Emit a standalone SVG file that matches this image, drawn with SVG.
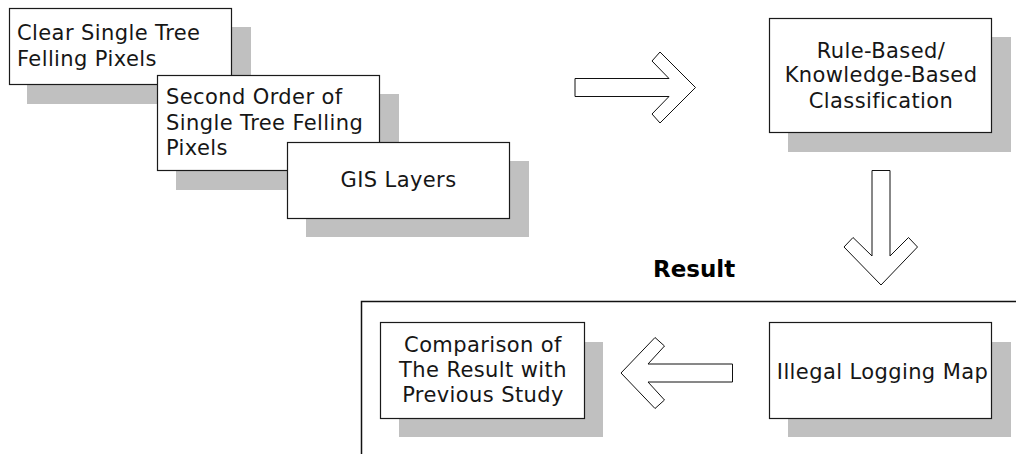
<svg xmlns="http://www.w3.org/2000/svg" width="1016" height="454" viewBox="0 0 1016 454">
  <style>
    .shadow { fill: #c0c0c0; stroke: none; }
    .box { fill: #ffffff; stroke: #1a1a1a; stroke-width: 1.2; }
    .label { font-family: "DejaVu Sans", Verdana, sans-serif; font-size: 21px; letter-spacing: 0.4px; fill: #161616; }
    .mid { text-anchor: middle; }
    .title { font-family: "DejaVu Sans", Verdana, sans-serif; font-size: 23px; font-weight: bold; fill: #000000; }
    .arrow { fill: #ffffff; stroke: #111111; stroke-width: 1; stroke-linejoin: miter; }
    .frame { fill: none; stroke: #111111; stroke-width: 1.5; }
  </style>

  <!-- Result section frame (open to the right and bottom) -->
  <g id="result-frame">
    <rect class="frame" x="361.5" y="301.5" width="700" height="200"/>
    <text class="title" x="653" y="277">Result</text>
  </g>

  <!-- Input layers, stacked -->
  <g id="clear-felling">
    <rect class="shadow" x="27" y="27" width="224" height="77"/>
    <rect class="box" x="9.5" y="8.5" width="222" height="76"/>
    <text class="label" x="17" y="40">Clear Single Tree</text>
    <text class="label" x="17" y="66">Felling Pixels</text>
  </g>

  <g id="second-order">
    <rect class="shadow" x="176" y="94" width="223" height="96"/>
    <rect class="box" x="157.5" y="75.5" width="222" height="95"/>
    <text class="label" x="166" y="104">Second Order of</text>
    <text class="label" x="166" y="129.5">Single Tree Felling</text>
    <text class="label" x="166" y="155">Pixels</text>
  </g>

  <g id="gis-layers">
    <rect class="shadow" x="306" y="161" width="223" height="76"/>
    <rect class="box" x="287.5" y="142.5" width="222" height="76"/>
    <text class="label mid" x="398.5" y="187">GIS Layers</text>
  </g>

  <g id="classification">
    <rect class="shadow" x="788" y="37" width="223" height="115"/>
    <rect class="box" x="769.5" y="18.5" width="222" height="114"/>
    <text class="label mid" x="881" y="57.5">Rule-Based/</text>
    <text class="label mid" x="881" y="82">Knowledge-Based</text>
    <text class="label mid" x="881" y="107.5">Classification</text>
  </g>

  <g id="illegal-logging-map">
    <rect class="shadow" x="788" y="342" width="223" height="95"/>
    <rect class="box" x="769.5" y="322.5" width="222" height="96"/>
    <text class="label mid" x="882.5" y="378.5">Illegal Logging Map</text>
  </g>

  <g id="comparison">
    <rect class="shadow" x="399" y="342" width="204" height="95"/>
    <rect class="box" x="380.5" y="322.5" width="204" height="96"/>
    <text class="label mid" x="483" y="352">Comparison of</text>
    <text class="label mid" x="483" y="377">The Result with</text>
    <text class="label mid" x="483" y="402">Previous Study</text>
  </g>

  <!-- Block arrows between steps -->
  <g id="connectors">
    <polygon class="arrow" points="575,78.5 669,78.5 652,61 660,52 695.5,87.5 660,123 652,114 669,96.5 575,96.5"/>
    <polygon class="arrow" points="872,170.5 890,170.5 890,256 908.5,237.5 917.5,247 881,285 844,247 853,237.5 872,256"/>
    <polygon class="arrow" points="732.5,364 648,364 664.5,346 655,337.5 621,373 655,408.5 664.5,400 648,382 732.5,382"/>
  </g>
</svg>
